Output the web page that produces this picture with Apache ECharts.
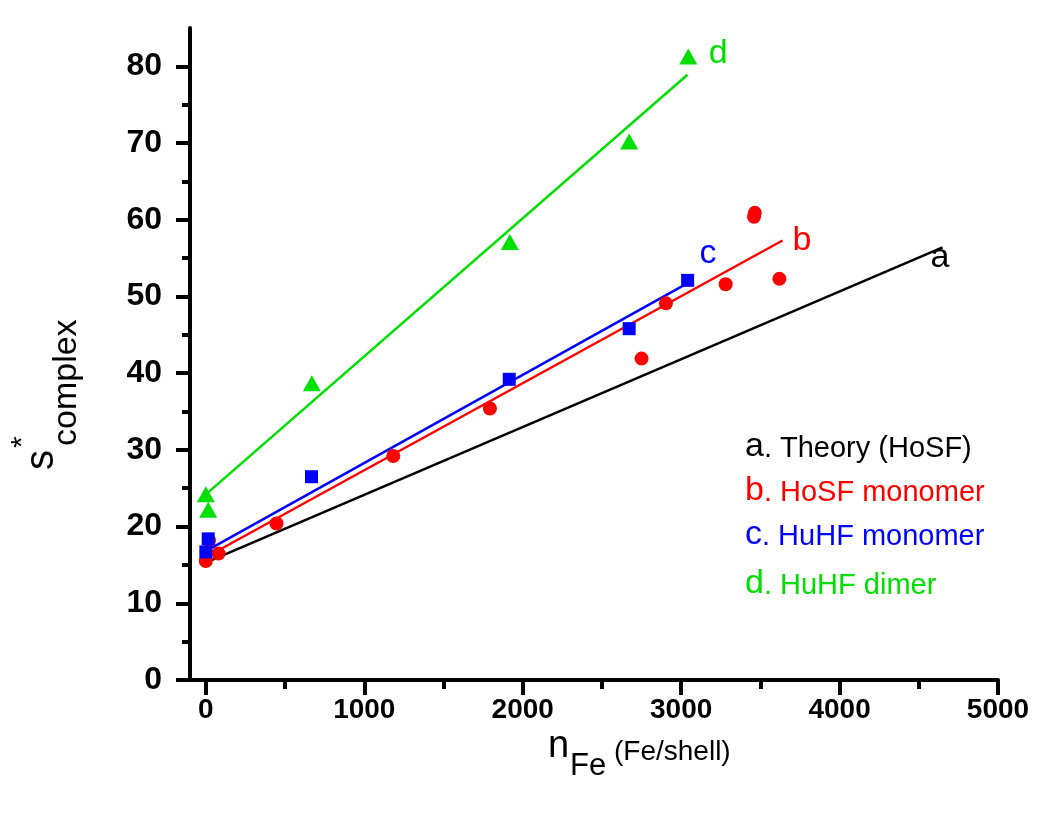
<!DOCTYPE html>
<html><head><meta charset="utf-8">
<script src="https://cdn.jsdelivr.net/npm/echarts@6/dist/echarts.min.js"></script>
<style>html,body{margin:0;padding:0;background:#fff}#c{width:1050px;height:818px}</style>
</head><body><div id="c"></div>
<script>
// ---- data ----
const xTicks = [0, 1000, 2000, 3000, 4000, 5000];
const xMinor = [500, 1500, 2500, 3500, 4500];
const yTicks = [0, 10, 20, 30, 40, 50, 60, 70, 80];
const yMinor = [5, 15, 25, 35, 45, 55, 65, 75];

const hosfX = [0, 20, 80, 446, 1183, 1793, 2750, 2904, 3281, 3460, 3465, 3620];
const hosfY = [15.5, 18.2, 16.5, 20.4, 29.2, 35.4, 41.9, 49.1, 51.6, 60.4, 60.9, 52.3];
const huhfMonoX = [0, 15, 667, 1915, 2672, 3041];
const huhfMonoY = [16.7, 18.4, 26.5, 39.2, 45.8, 52.1];
const huhfDimerX = [0, 15, 669, 1919, 2672, 3045];
const huhfDimerY = [24.2, 22.2, 38.7, 57.1, 70.2, 81.3];

const fitA = [[0, 15.3], [4650, 56.4]];
const fitB = [[0, 16.0], [3640, 57.3]];
const fitC = [[0, 16.8], [3030, 51.6]];
const fitD = [[0, 24.2], [3040, 78.9]];

const lineLabels = ['a', 'b', 'c', 'd'];
const lineLabelX = [4634, 3763, 3169, 3234];
const lineLabelY = [55.0, 57.3, 55.6, 81.6];

const legendLetters = ['a', 'b', 'c', 'd'];
const legendTexts = ['Theory (HoSF)', 'HoSF monomer', 'HuHF monomer', 'HuHF dimer'];

// ---- styles ----
const BLACK = '#000000', RED = '#ff0000', BLUE = '#0000ff', GREEN = '#00e000';
const colors = [BLACK, RED, BLUE, GREEN];
const FONT = "'Liberation Sans', Arial, sans-serif";

const zip = (xs, ys) => xs.map((x, i) => [x, ys[i]]);

const axisCommon = { type: 'value', splitLine: { show: false } };

const option = {
  animation: false,
  backgroundColor: '#ffffff',
  grid: { left: 190, right: 52, top: 28, bottom: 138, containLabel: false },
  xAxis: [
    Object.assign({}, axisCommon, {
      min: -100, max: 5000, position: 'bottom',
      axisLine: { show: true, onZero: false, lineStyle: { color: BLACK, width: 4 } },
      axisTick: { show: true, customValues: xTicks, length: 15, lineStyle: { color: BLACK, width: 4 } },
      axisLabel: { show: true, customValues: xTicks, margin: 16, color: BLACK,
        formatter: v => String(v),
        fontFamily: FONT, fontWeight: 'bold', fontSize: 28 }
    }),
    Object.assign({}, axisCommon, {
      min: -100, max: 5000, position: 'bottom', offset: 0,
      axisLine: { show: false, onZero: false },
      axisTick: { show: true, customValues: xMinor, length: 9, lineStyle: { color: BLACK, width: 4 } },
      axisLabel: { show: false }
    })
  ],
  yAxis: [
    Object.assign({}, axisCommon, {
      min: 0, max: 85, position: 'left',
      axisLine: { show: true, onZero: false, lineStyle: { color: BLACK, width: 4 } },
      axisTick: { show: true, customValues: yTicks, length: 14, lineStyle: { color: BLACK, width: 4 } },
      axisLabel: { show: true, customValues: yTicks, margin: 28, color: BLACK,
        formatter: v => String(v),
        fontFamily: FONT, fontWeight: 'bold', fontSize: 32 }
    }),
    Object.assign({}, axisCommon, {
      min: 0, max: 85, position: 'left', offset: 0,
      axisLine: { show: false, onZero: false },
      axisTick: { show: true, customValues: yMinor, length: 8, lineStyle: { color: BLACK, width: 4 } },
      axisLabel: { show: false }
    })
  ],
  series: [
    { type: 'line', data: fitA, symbol: 'none', lineStyle: { color: BLACK, width: 2.5 }, z: 2 },
    { type: 'line', data: fitB, symbol: 'none', lineStyle: { color: RED, width: 2.5 }, z: 2 },
    { type: 'line', data: fitC, symbol: 'none', lineStyle: { color: BLUE, width: 2.5 }, z: 2 },
    { type: 'line', data: fitD, symbol: 'none', lineStyle: { color: GREEN, width: 2.5 }, z: 2 },
    { type: 'scatter', data: zip(hosfX, hosfY), symbol: 'circle', symbolSize: 14,
      itemStyle: { color: RED, opacity: 1 }, z: 3 },
    { type: 'scatter', data: zip(huhfMonoX, huhfMonoY), symbol: 'rect', symbolSize: 13,
      itemStyle: { color: BLUE, opacity: 1 }, z: 4 },
    { type: 'scatter', data: zip(huhfDimerX, huhfDimerY), symbol: 'triangle', symbolSize: [18, 16],
      itemStyle: { color: GREEN, opacity: 1 }, z: 4 },
    { type: 'scatter', symbolSize: 0, z: 5, silent: true,
      data: lineLabels.map((t, i) => ({ value: [lineLabelX[i], lineLabelY[i]], name: t,
        label: { color: colors[i], opacity: 1 } })),
      label: { show: true, position: 'inside', formatter: p => p.name,
        fontFamily: FONT, fontSize: 34, textBorderWidth: 0 } }
  ],
  graphic: [
    // legend block
    ...legendLetters.map((l, i) => ({
      type: 'text', left: 745, top: [430, 474, 518, 567][i], z: 10,
      style: {
        text: '{l|' + l + '}{t|. ' + legendTexts[i] + '}',
        fill: colors[i],
        rich: {
          l: { fontFamily: FONT, fontSize: 34, fill: colors[i], verticalAlign: 'bottom' },
          t: { fontFamily: FONT, fontSize: 29, fill: colors[i], verticalAlign: 'bottom', padding: [0, 0, 1, 0] }
        }
      }
    })),
    // x axis title
    { type: 'text', x: 548, y: 766, z: 10,
      style: { text: 'n', fontFamily: FONT, fontSize: 38, fill: BLACK, align: 'left', verticalAlign: 'bottom' } },
    { type: 'text', x: 570, y: 782, z: 10,
      style: { text: 'Fe', fontFamily: FONT, fontSize: 31, fill: BLACK, align: 'left', verticalAlign: 'bottom' } },
    { type: 'text', x: 614, y: 766, z: 10,
      style: { text: '(Fe/shell)', fontFamily: FONT, fontSize: 28, fill: BLACK, align: 'left', verticalAlign: 'bottom' } },
    // y axis title (rotated)
    { type: 'text', x: 62, y: 470, rotation: Math.PI / 2, z: 10,
      style: { text: 's', fontFamily: FONT, fontSize: 40, fill: BLACK, align: 'left', verticalAlign: 'bottom' } },
    { type: 'text', x: 38, y: 448, rotation: Math.PI / 2, z: 10,
      style: { text: '*', fontFamily: FONT, fontSize: 30, fill: BLACK, align: 'left', verticalAlign: 'bottom' } },
    { type: 'text', x: 84, y: 446, rotation: Math.PI / 2, z: 10,
      style: { text: 'complex', fontFamily: FONT, fontSize: 34, fill: BLACK, align: 'left', verticalAlign: 'bottom' } }
  ]
};

const chart = echarts.init(document.getElementById('c'), null, { renderer: 'canvas' });
chart.setOption(option);
</script>
</body></html>
